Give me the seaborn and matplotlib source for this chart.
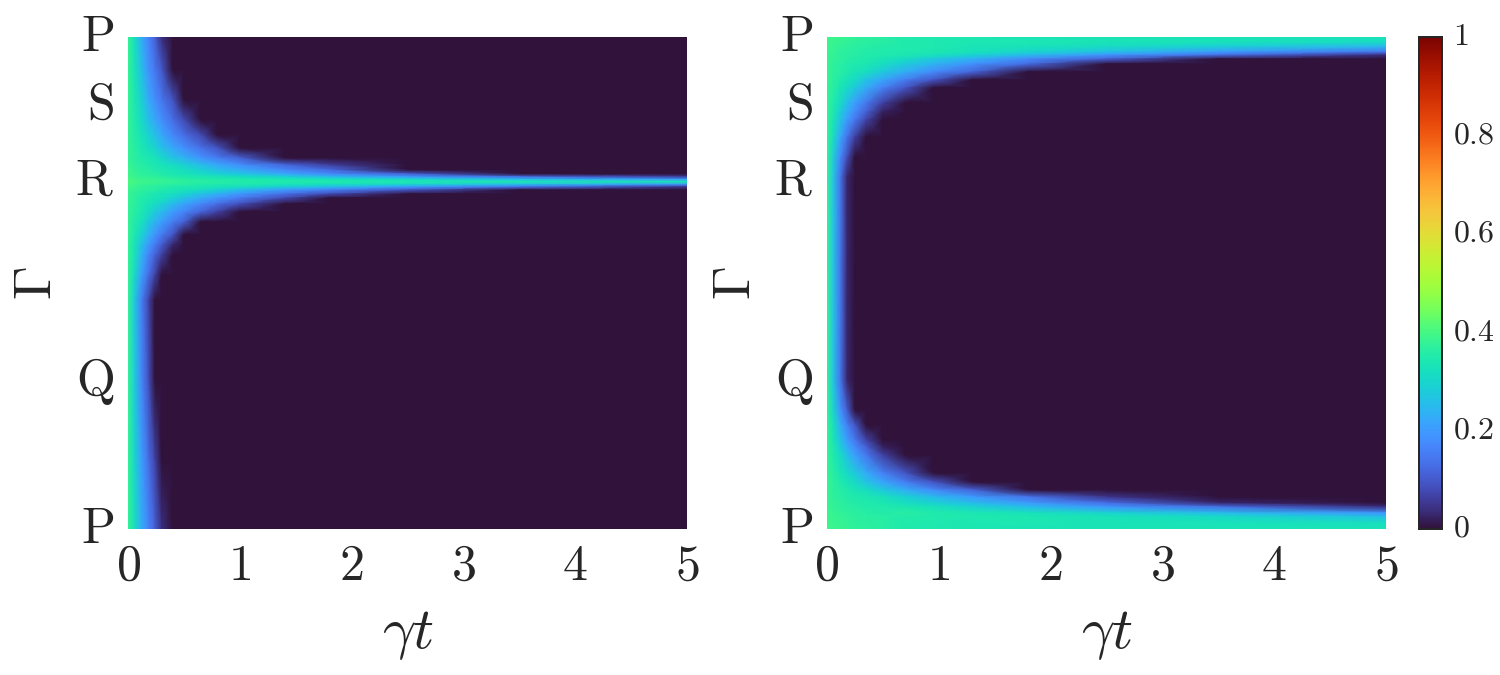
import numpy as np
import pandas as pd
import matplotlib
matplotlib.use("Agg")
import matplotlib.pyplot as plt
from matplotlib.transforms import ScaledTranslation
import seaborn as sns

# positions along the path P-S-R-Q-P, in picture units from the top P
gamma_ticks = [0, 68, 144, 343, 492]
gamma_labels = ["P", "S", "R", "Q", "P"]
time_ticks = [0, 1, 2, 3, 4, 5]
cbar_ticks = [0, 0.2, 0.4, 0.6, 0.8, 1]
cbar_labels = ["0", "0.2", "0.4", "0.6", "0.8", "1"]

left_times = [0, .06, .12, .18, .24, .3, .4, .5, .65, .8, 1, 1.4, 1.8, 2.5, 3.5, 5]
left_gamma = [0, 33, 63, 83, 98, 111, 121, 128, 133, 137, 140, 142.5, 145, 147.5, 150,
              153, 157, 161, 167, 175, 185, 198, 208, 218, 238, 263, 343, 423, 492]
# trailing zeros left out
left_values = [
    [.38, .32, .23, .17, .11, .04],
    [.38, .33, .26, .19, .145, .10],
    [.38, .34, .29, .23, .18, .145, .09],
    [.38, .35, .31, .26, .22, .18, .13, .08],
    [.38, .355, .33, .295, .26, .22, .17, .13, .076],
    [.38, .36, .34, .32, .295, .26, .22, .18, .135, .09],
    [.38, .365, .35, .34, .33, .305, .265, .24, .19, .155, .11],
    [.385, .37, .36, .35, .34, .33, .315, .29, .255, .22, .18, .12, .06],
    [.39, .375, .365, .36, .35, .345, .33, .32, .29, .26, .23, .17, .125],
    [.39, .38, .37, .365, .36, .35, .34, .33, .31, .29, .27, .22, .175, .11],
    [.395, .385, .38, .375, .37, .365, .355, .35, .34, .335, .32, .29, .25, .20, .14, .065],
    [.40, .39, .385, .38, .38, .375, .37, .36, .355, .35, .35, .34, .33, .31, .26, .21],
    [.41, .40, .39, .39, .38, .38, .375, .37, .365, .36, .355, .35, .35, .345, .34, .335],
    [.40, .39, .385, .38, .375, .37, .365, .36, .35, .345, .345, .335, .32, .30, .25, .19],
    [.395, .385, .375, .37, .365, .36, .35, .345, .34, .33, .315, .285, .25, .20, .14, .05],
    [.39, .38, .37, .365, .36, .35, .34, .33, .315, .29, .255, .20, .16, .095],
    [.385, .37, .36, .35, .34, .33, .32, .30, .265, .235, .195, .13, .08],
    [.385, .37, .355, .345, .335, .325, .295, .265, .225, .19, .15, .08],
    [.38, .365, .35, .33, .315, .29, .25, .215, .17, .13, .085],
    [.38, .36, .34, .315, .28, .25, .20, .165, .115, .065],
    [.38, .35, .325, .28, .24, .205, .155, .11],
    [.38, .34, .295, .24, .19, .15, .09],
    [.38, .33, .26, .20, .15, .105, .03],
    [.38, .325, .24, .17, .115, .065],
    [.38, .305, .205, .135, .07],
    [.38, .27, .16, .076],
    [.38, .28, .17, .09],
    [.38, .30, .205, .135, .07],
    [.38, .32, .23, .17, .11, .04],
]

right_times = [0, .06, .12, .18, .25, .35, .5, .7, .95, 1.3, 1.8, 2.5, 3.5, 5]
right_gamma = [0, 5, 10, 15, 18, 22, 27, 35, 43, 51, 66, 75, 83, 100, 120, 140, 223, 343,
               373, 388, 403, 410, 418, 436, 445, 453, 460, 466, 470, 476, 480, 486, 492]
right_values = [
    [.395, .39, .385, .38, .375, .37, .36, .35, .345, .34, .335, .335, .33, .33],
    [.39, .385, .38, .375, .37, .365, .36, .35, .345, .34, .34, .335, .33, .315],
    [.39, .38, .375, .37, .365, .36, .355, .35, .345, .335, .325, .31, .285, .24],
    [.385, .38, .37, .365, .36, .355, .35, .345, .34, .325, .30, .26, .20, .14],
    [.385, .375, .37, .365, .36, .355, .35, .34, .325, .295, .25, .195, .135, .04],
    [.385, .375, .37, .36, .355, .35, .335, .315, .275, .235, .175, .11],
    [.385, .37, .365, .355, .35, .34, .32, .28, .24, .185, .125],
    [.385, .37, .36, .35, .335, .32, .275, .23, .175, .115],
    [.385, .365, .35, .33, .31, .265, .215, .155, .09],
    [.38, .36, .335, .31, .275, .225, .16, .09],
    [.38, .345, .31, .255, .205, .145, .065],
    [.38, .34, .285, .23, .175, .11, .02],
    [.38, .33, .265, .20, .145, .07],
    [.38, .31, .215, .14, .065],
    [.38, .275, .17, .085],
    [.38, .26, .14, .03],
    [.38, .26, .14, .03],
    [.38, .26, .14, .03],
    [.38, .29, .185, .105],
    [.38, .32, .23, .16, .095],
    [.38, .33, .265, .20, .145, .07],
    [.38, .34, .285, .23, .175, .11, .02],
    [.38, .345, .31, .255, .205, .145, .065],
    [.38, .36, .335, .31, .275, .225, .16, .09],
    [.385, .365, .35, .33, .31, .265, .215, .155, .09],
    [.385, .37, .36, .35, .335, .32, .275, .23, .175, .115],
    [.385, .37, .365, .355, .35, .34, .325, .29, .25, .20, .14, .05],
    [.385, .375, .37, .36, .355, .35, .34, .32, .29, .25, .20, .13, .03],
    [.385, .375, .37, .365, .36, .355, .35, .34, .325, .295, .25, .195, .135, .04],
    [.39, .38, .375, .37, .365, .36, .355, .36, .35, .34, .325, .295, .25, .19],
    [.39, .385, .38, .375, .37, .365, .36, .355, .35, .345, .34, .33, .31, .265],
    [.39, .385, .38, .375, .37, .365, .36, .35, .345, .34, .34, .335, .33, .32],
    [.395, .39, .385, .38, .375, .37, .36, .35, .345, .34, .335, .335, .335, .335],
]


def table(values, times, gamma):
    rows = [r + [0.0] * (len(times) - len(r)) for r in values]
    return pd.DataFrame(rows, index=gamma, columns=times)


sns.set_theme(style="white")
plt.rcParams["mathtext.fontset"] = "cm"
INK = "#262626"
turbo = sns.color_palette("turbo", as_cmap=True)

fig = plt.figure(figsize=(15, 6.75), dpi=100)
W, H = 1500.0, 675.0


def box(x0, x1, y0, y1):
    return [x0 / W, 1 - y1 / H, (x1 - x0) / W, (y1 - y0) / H]


ax_l = fig.add_axes(box(128, 687, 37, 529))
ax_r = fig.add_axes(box(827, 1386, 37, 529))
cax = fig.add_axes(box(1419, 1442, 37, 529))


def raise_labels(labels, points):
    shift = ScaledTranslation(0, points / 72.0, fig.dpi_scale_trans)
    for lab in labels:
        lab.set_transform(lab.get_transform() + shift)


def panel(ax, values, times, gamma, cbar_ax=None):
    df = table(values, times, gamma)
    sns.heatmap(df, ax=ax, cmap=turbo, vmin=0, vmax=1, shading="gouraud",
                xticklabels=False, yticklabels=False,
                cbar=cbar_ax is not None, cbar_ax=cbar_ax)
    ix = np.arange(len(times), dtype=float)
    iy = np.arange(len(gamma), dtype=float)
    tt = np.asarray(times, dtype=float)
    gg = np.asarray(gamma, dtype=float)
    ax.set_xscale("function", functions=(lambda v: np.interp(v, ix, tt),
                                         lambda v: np.interp(v, tt, ix)))
    ax.set_yscale("function", functions=(lambda v: np.interp(v, iy, gg),
                                         lambda v: np.interp(v, gg, iy)))
    ax.set_xlim(0, len(times) - 1)
    ax.set_ylim(len(gamma) - 1, 0)
    ax.set_xticks(np.interp(time_ticks, tt, ix))
    ax.set_xticklabels([f"${v}$" for v in time_ticks], fontsize=36, color=INK)
    ax.set_yticks(np.interp(gamma_ticks, gg, iy))
    ylabs = ax.set_yticklabels([rf"$\mathrm{{{s}}}$" for s in gamma_labels],
                               fontsize=36, color=INK)
    ax.minorticks_off()
    ax.tick_params(axis="x", length=0, pad=9.5)
    ax.tick_params(axis="y", length=0, pad=10)
    raise_labels(ylabs, 3.5)
    ax.set_xlabel(r"$\gamma t$", fontsize=42, color=INK, labelpad=11)
    ax.set_ylabel(r"$\Gamma$", fontsize=39, color=INK, labelpad=10)


panel(ax_l, left_values, left_times, left_gamma)
panel(ax_r, right_values, right_times, right_gamma, cbar_ax=cax)

cax.set_yticks(cbar_ticks)
clabs = cax.set_yticklabels([f"${s}$" for s in cbar_labels], fontsize=23, color=INK)
cax.tick_params(axis="y", length=0, pad=8)
cax.minorticks_off()
raise_labels(clabs, 3)
for s in cax.spines.values():
    s.set_visible(True)
    s.set_edgecolor(INK)
    s.set_linewidth(1.3)

fig.savefig("out.png", dpi=100)
